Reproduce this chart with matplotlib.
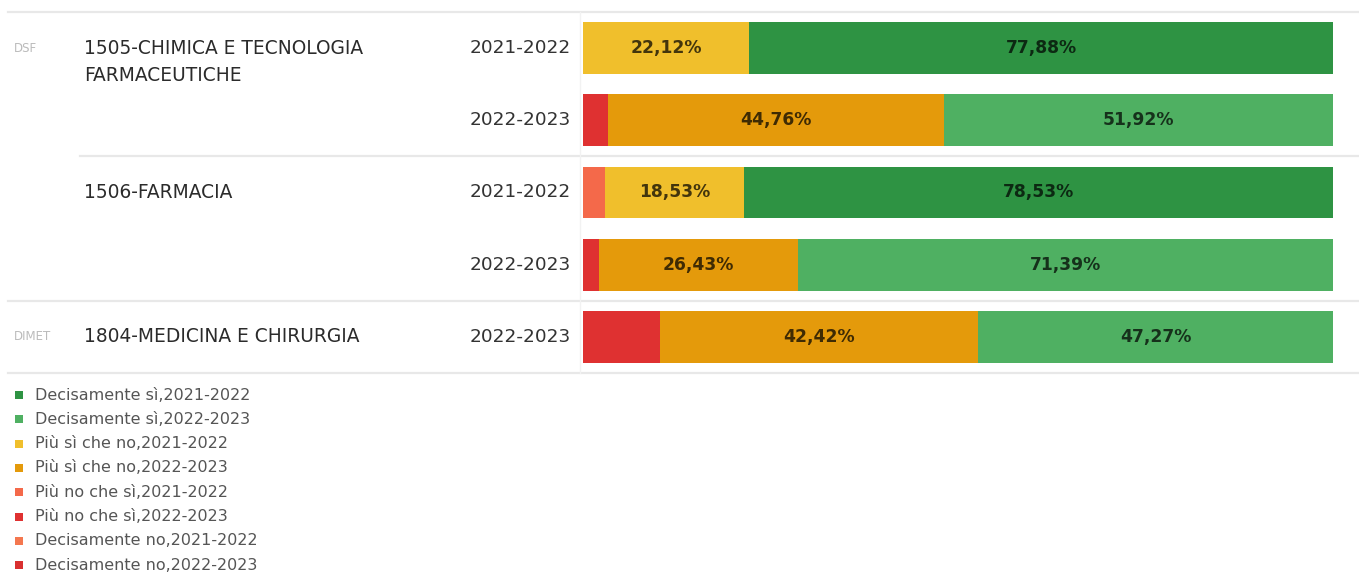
import matplotlib
matplotlib.use("Agg")
import matplotlib.pyplot as plt
from matplotlib.transforms import blended_transform_factory
from matplotlib.patches import Rectangle

# ---------------- data ----------------
years = ["2021-2022", "2022-2023", "2021-2022", "2022-2023", "2022-2023"]
courses = ["1505-CHIMICA E TECNOLOGIA\nFARMACEUTICHE", "", "1506-FARMACIA", "", "1804-MEDICINA E CHIRURGIA"]
departments = ["DSF", "", "", "", "DIMET"]

piu_no_che_si = [0.0, 3.32, 2.94, 2.18, 10.31]
piu_si_che_no = [22.12, 44.76, 18.53, 26.43, 42.42]
decisamente_si = [77.88, 51.92, 78.53, 71.39, 47.27]

legend_labels = [
    "Decisamente sì,2021-2022",
    "Decisamente sì,2022-2023",
    "Più sì che no,2021-2022",
    "Più sì che no,2022-2023",
    "Più no che sì,2021-2022",
    "Più no che sì,2022-2023",
    "Decisamente no,2021-2022",
    "Decisamente no,2022-2023",
]
legend_colors = ["#2e9343", "#4fb062", "#f0bf2c", "#e49a0b",
                 "#f4694a", "#df3131", "#f4774f", "#d93030"]
colmap = dict(zip(legend_labels, legend_colors))

# ---------------- figure ----------------
plt.rcParams["font.family"] = ["DejaVu Sans"]
W, H = 1359, 572
fig = plt.figure(figsize=(W / 100, H / 100), dpi=100)
fig.patch.set_facecolor("white")

ax_left, ax_right = 583 / W, 1333 / W
ax_top, ax_bot = 12 / H, 373 / H
ax = fig.add_axes([ax_left, 1 - ax_bot, ax_right - ax_left, ax_bot - ax_top])
ax.set_xlim(0, 100)
n = len(years)
ax.set_ylim(n - 0.5, -0.5)
ax.axis("off")

row_px = (373 - 12) / n

bar_h = 0.72
for i, yr in enumerate(years):
    left = 0.0
    segs = [
        (piu_no_che_si[i], colmap["Più no che sì," + yr], False),
        (piu_si_che_no[i], colmap["Più sì che no," + yr], True),
        (decisamente_si[i], colmap["Decisamente sì," + yr], True),
    ]
    for val, c, lab in segs:
        if val > 0:
            ax.barh(i, val, left=left, height=bar_h, color=c, edgecolor="none")
            if lab:
                ax.text(left + val / 2, i, f"{val:.2f}%".replace(".", ","),
                        ha="center", va="center", fontsize=12.3,
                        color="black", alpha=0.72, fontweight="bold")
        left += val

# separators and labels in figure-x / data-y coordinates
tr = blended_transform_factory(fig.transFigure, ax.transData)
line_kw = dict(color="#e8e8e8", lw=1.6, transform=tr, clip_on=False)
ax.plot([8 / W, 1.0], [-0.5, -0.5], **line_kw)
ax.plot([80 / W, 1.0], [1.5, 1.5], **line_kw)
ax.plot([8 / W, 1.0], [3.5, 3.5], **line_kw)
ax.plot([8 / W, 1.0], [4.5, 4.5], **line_kw)
ax.plot([580 / W, 580 / W], [-0.5, 4.5], color="#f2f2f2", lw=1.0,
        transform=tr, clip_on=False)

for i, yr in enumerate(years):
    ax.text(571 / W, i, yr, transform=tr, ha="right", va="center",
            fontsize=13.3, color="#333333")
    if courses[i]:
        for k, part in enumerate(courses[i].split("\n")):
            ax.text(84 / W, i + k * 27 / row_px, part, transform=tr,
                    ha="left", va="center", fontsize=13.4, color="#2b2b2b")
    if departments[i]:
        ax.text(14 / W, i, departments[i], transform=tr, ha="left", va="center",
                fontsize=8.5, color="#bbbbbb")

# legend
y0, dy = 395, 24.3
sq = 8
for k, (lab, c) in enumerate(zip(legend_labels, legend_colors)):
    yc = y0 + k * dy
    fig.add_artist(Rectangle((15 / W, 1 - (yc + sq / 2) / H), sq / W, sq / H,
                             transform=fig.transFigure, color=c, lw=0))
    fig.text(35 / W, 1 - yc / H, lab, ha="left", va="center",
             fontsize=11.5, color="#555555")

fig.savefig("out.png", dpi=100, facecolor="white")
